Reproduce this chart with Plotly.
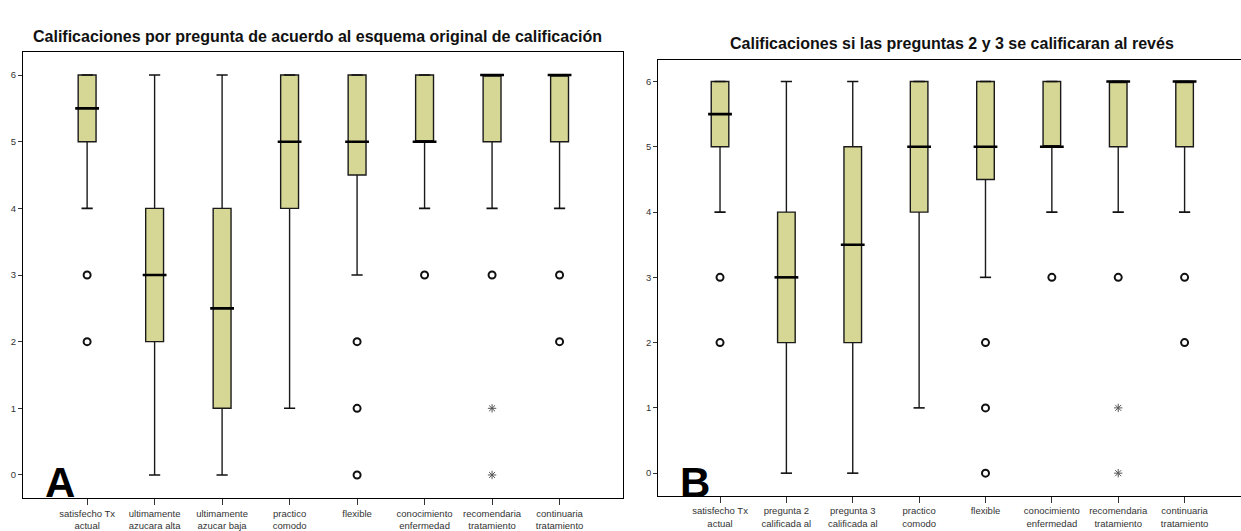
import plotly.graph_objects as go

# ---------------- data ----------------
cats_a = ["satisfecho Tx<br>actual", "ultimamente<br>azucara alta", "ultimamente<br>azucar baja",
          "practico<br>comodo", "flexible", "conocimiento<br>enfermedad",
          "recomendaria<br>tratamiento", "continuaria<br>tratamiento"]
cats_b = ["satisfecho Tx<br>actual", "pregunta 2<br>calificada al<br>revés", "pregunta 3<br>calificada al<br>revés",
          "practico<br>comodo", "flexible", "conocimiento<br>enfermedad",
          "recomendaria<br>tratamiento", "continuaria<br>tratamiento"]

a_low = [4, 0, 0, 1, 3, 4, 4, 4]
a_q1 = [5, 2, 1, 4, 4.5, 5, 5, 5]
a_med = [5.5, 3, 2.5, 5, 5, 5, 6, 6]
a_q3 = [6, 4, 4, 6, 6, 6, 6, 6]
a_high = [6, 6, 6, 6, 6, 6, 6, 6]
a_out_cat = [0, 0, 4, 4, 4, 5, 6, 7, 7]
a_out_val = [3, 2, 2, 1, 0, 3, 3, 3, 2]
a_ext_cat = [6, 6]
a_ext_val = [1, 0]

b_low = [4, 0, 0, 1, 3, 4, 4, 4]
b_q1 = [5, 2, 2, 4, 4.5, 5, 5, 5]
b_med = [5.5, 3, 3.5, 5, 5, 5, 6, 6]
b_q3 = [6, 4, 5, 6, 6, 6, 6, 6]
b_high = [6, 6, 6, 6, 6, 6, 6, 6]
b_out_cat = [0, 0, 4, 4, 4, 5, 6, 7, 7]
b_out_val = [3, 2, 2, 1, 0, 3, 3, 3, 2]
b_ext_cat = [6, 6]
b_ext_val = [1, 0]

y_ticks = [0, 1, 2, 3, 4, 5, 6]

# ---------------- styling ----------------
FONT = "Liberation Sans, Arial, sans-serif"
BOX_FILL = "rgb(214,215,148)"
W = 1241
H = 531

fig = go.Figure()


def add_panel(xref, yref, low, q1, med, q3, high, oc, ov, ec, ev):
    xs = list(range(len(q1)))
    fig.add_trace(go.Box(
        x=xs, q1=q1, median=med, q3=q3, lowerfence=low, upperfence=high,
        width=0.265, fillcolor=BOX_FILL,
        line=dict(color="#1a1a1a", width=1.4),
        boxpoints=False, whiskerwidth=0,
        xaxis=xref, yaxis=yref, showlegend=False, hoverinfo="skip"))
    # whisker caps
    fig.add_trace(go.Scatter(
        x=xs + xs, y=low + high, mode="markers",
        marker=dict(symbol="line-ew", size=8, color="#111", line=dict(color="#111", width=1.6)),
        xaxis=xref, yaxis=yref, showlegend=False, hoverinfo="skip"))
    # thick medians
    fig.add_trace(go.Scatter(
        x=xs, y=med, mode="markers",
        marker=dict(symbol="line-ew", size=17, color="#000", line=dict(color="#000", width=2.6)),
        xaxis=xref, yaxis=yref, showlegend=False, hoverinfo="skip"))
    # outliers
    fig.add_trace(go.Scatter(
        x=oc, y=ov, mode="markers",
        marker=dict(symbol="circle-open", size=7, color="#111", line=dict(color="#111", width=2)),
        xaxis=xref, yaxis=yref, showlegend=False, hoverinfo="skip"))
    # extremes
    fig.add_trace(go.Scatter(
        x=ec, y=ev, mode="markers",
        marker=dict(symbol="asterisk-open", size=7, color="#555", line=dict(color="#555", width=1)),
        xaxis=xref, yaxis=yref, showlegend=False, hoverinfo="skip"))


add_panel("x", "y", a_low, a_q1, a_med, a_q3, a_high, a_out_cat, a_out_val, a_ext_cat, a_ext_val)
add_panel("x2", "y2", b_low, b_q1, b_med, b_q3, b_high, b_out_cat, b_out_val, b_ext_cat, b_ext_val)

axis_common = dict(showline=True, linecolor="#000", linewidth=1, mirror=True,
                   showgrid=False, zeroline=False, ticks="outside", automargin=False,
                   tickcolor="#333", tickfont=dict(family=FONT, size=9.5, color="#333"))

fig.update_layout(
    template="none",
    width=W, height=H,
    margin=dict(l=0, r=0, t=0, b=0, pad=0, autoexpand=False),
    paper_bgcolor="white", plot_bgcolor="white",
    font=dict(family=FONT),
    xaxis=dict(domain=[23 / W, 623 / W], range=[-0.95, 7.94],
               tickvals=list(range(8)), ticktext=cats_a, ticklen=6, anchor="y", **axis_common),
    yaxis=dict(domain=[1 - 498.3 / H, 1 - 51.7 / H], range=[-0.35, 6.35],
               tickvals=y_ticks, ticklen=4, anchor="x", **axis_common),
    xaxis2=dict(domain=[658.3 / W, 1.0], range=[-0.93, 7.85],
                tickvals=list(range(8)), ticktext=cats_b, ticklen=6, anchor="y2", **axis_common),
    yaxis2=dict(domain=[1 - 496 / H, 1 - 60 / H], range=[-0.35, 6.33],
                tickvals=y_ticks, ticklen=4, anchor="x2", **axis_common),
    annotations=[
        dict(text="<b>Calificaciones por pregunta de acuerdo al esquema original de calificación</b>",
             x=317 / W, y=1 - 36 / H, xref="paper", yref="paper", showarrow=False,
             xanchor="center", yanchor="middle",
             font=dict(family=FONT, size=16, color="#111")),
        dict(text="<b>Calificaciones si las preguntas 2 y 3 se calificaran al revés</b>",
             x=952 / W, y=1 - 44 / H, xref="paper", yref="paper", showarrow=False,
             xanchor="center", yanchor="middle",
             font=dict(family=FONT, size=16, color="#111")),
        dict(text="<b>A</b>", x=60 / W, y=1 - 482 / H, xref="paper", yref="paper",
             showarrow=False, xanchor="center", yanchor="middle",
             font=dict(family=FONT, size=42, color="#000")),
        dict(text="<b>B</b>", x=695 / W, y=1 - 483 / H, xref="paper", yref="paper",
             showarrow=False, xanchor="center", yanchor="middle",
             font=dict(family=FONT, size=42, color="#000")),
    ],
)

fig.write_html("out.html")
